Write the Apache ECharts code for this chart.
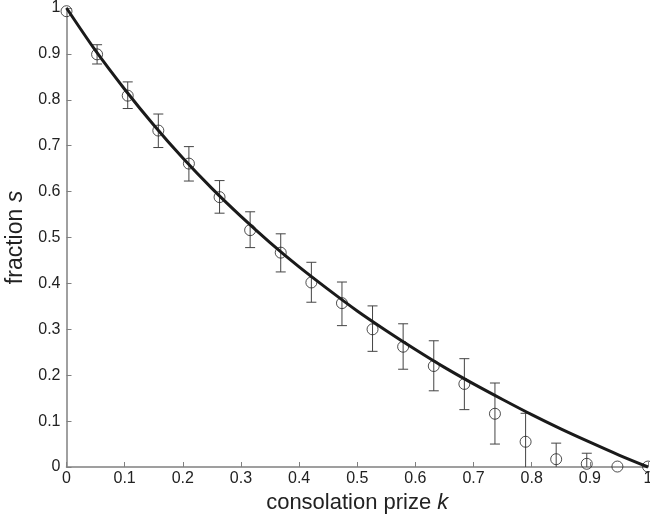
<!DOCTYPE html>
<html>
<head>
<meta charset="utf-8">
<script src="https://cdn.jsdelivr.net/npm/echarts@6/dist/echarts.min.js"></script>
<style>
    html, body { margin: 0; padding: 0; background: #fff; }
    #chart { width: 650px; height: 523px; }
</style>
</head>
<body>
<div id="chart"></div>
<script>
// measured points (k = i/19)
var kValues = [0, 0.0526, 0.1053, 0.1579, 0.2105, 0.2632, 0.3158, 0.3684, 0.4211, 0.4737,
    0.5263, 0.5789, 0.6316, 0.6842, 0.7368, 0.7895, 0.8421, 0.8947, 0.9474, 1];
var sValues = [0.993, 0.899, 0.809, 0.733, 0.661, 0.588, 0.516, 0.467, 0.402, 0.357,
    0.300, 0.262, 0.220, 0.181, 0.116, 0.055, 0.017, 0.007, 0.001, 0.001];
var sUpper = [0.993, 0.920, 0.839, 0.769, 0.698, 0.624, 0.556, 0.508, 0.446, 0.403,
    0.351, 0.312, 0.275, 0.236, 0.183, 0.117, 0.052, 0.030, 0.001, 0.001];
var sLower = [0.993, 0.878, 0.781, 0.696, 0.623, 0.553, 0.478, 0.425, 0.359, 0.308,
    0.252, 0.213, 0.166, 0.125, 0.050, 0, 0, 0, 0.001, 0.001];

// theory curve
var curveK = [0, 0.05, 0.1, 0.15, 0.2, 0.25, 0.3, 0.35, 0.4, 0.45, 0.5,
    0.55, 0.6, 0.65, 0.7, 0.75, 0.8, 0.85, 0.9, 0.95, 1];
var curveS = [1, 0.907, 0.823, 0.745, 0.673, 0.607, 0.546, 0.489, 0.436, 0.387, 0.340,
    0.297, 0.256, 0.217, 0.181, 0.147, 0.114, 0.083, 0.054, 0.026, 0];

var tickFont = 'Liberation Sans, Arial, sans-serif';

var myChart = echarts.init(document.getElementById('chart'), null, {renderer: 'canvas'});

var errData = kValues.map(function (k, i) {
    return [k, sLower[i], sUpper[i]];
});

var option = {
    animation: false,
    grid: {
        left: 66.5,
        right: 2,
        top: 8,
        bottom: 56,
        outerBoundsMode: 'none'
    },
    xAxis: {
        type: 'value',
        min: 0,
        max: 1,
        interval: 0.1,
        name: '{n|consolation prize }{i|k}',
        nameLocation: 'middle',
        nameGap: 25,
        nameTextStyle: {
            rich: {
                n: {fontSize: 22, fontFamily: tickFont, color: '#222'},
                i: {fontSize: 22, fontFamily: tickFont, fontStyle: 'italic', color: '#222'}
            }
        },
        axisLine: {onZero: false, lineStyle: {color: '#808080', width: 1.5}},
        axisTick: {inside: true, length: 5, lineStyle: {color: '#808080'}},
        axisLabel: {
            margin: 4,
            fontSize: 16,
            fontFamily: tickFont,
            color: '#222',
            formatter: function (v) { return Math.round(v * 10) / 10 + ''; }
        },
        splitLine: {show: false}
    },
    yAxis: {
        type: 'value',
        min: 0,
        max: 1,
        interval: 0.1,
        name: '{n|fraction }{i|s}',
        nameLocation: 'middle',
        nameGap: 36,
        nameTextStyle: {
            rich: {
                n: {fontSize: 23, fontFamily: tickFont, color: '#222'},
                i: {fontSize: 23, fontFamily: tickFont, fontStyle: 'italic', color: '#222'}
            }
        },
        axisLine: {onZero: false, lineStyle: {color: '#808080', width: 1.5}},
        axisTick: {inside: true, length: 5, lineStyle: {color: '#808080'}},
        axisLabel: {
            margin: 6,
            fontSize: 16,
            fontFamily: tickFont,
            color: '#222',
            formatter: function (v) { return Math.round(v * 10) / 10 + ''; }
        },
        splitLine: {show: false}
    },
    series: [
        {
            // error bars
            type: 'custom',
            clip: false,
            data: errData,
            renderItem: function (params, api) {
                var x = api.value(0);
                var lo = api.coord([x, api.value(1)]);
                var hi = api.coord([x, api.value(2)]);
                var half = 5;
                var children = [{
                    type: 'line',
                    shape: {x1: hi[0], y1: hi[1], x2: lo[0], y2: lo[1]},
                    style: {stroke: '#444', lineWidth: 1}
                }];
                if (api.value(2) - api.value(1) > 0.005) {
                    children.push({
                        type: 'line',
                        shape: {x1: hi[0] - half, y1: hi[1], x2: hi[0] + half, y2: hi[1]},
                        style: {stroke: '#444', lineWidth: 1}
                    });
                    if (api.value(1) > 0) {
                        children.push({
                            type: 'line',
                            shape: {x1: lo[0] - half, y1: lo[1], x2: lo[0] + half, y2: lo[1]},
                            style: {stroke: '#444', lineWidth: 1}
                        });
                    }
                }
                return {type: 'group', children: children};
            },
            z: 2
        },
        {
            type: 'scatter',
            clip: false,
            data: kValues.map(function (k, i) { return [k, sValues[i]]; }),
            symbol: 'circle',
            symbolSize: 11,
            itemStyle: {color: 'rgba(0,0,0,0)', borderColor: '#222', borderWidth: 1},
            z: 3
        },
        {
            type: 'line',
            clip: false,
            data: curveK.map(function (k, i) { return [k, curveS[i]]; }),
            smooth: 0.3,
            showSymbol: false,
            lineStyle: {color: '#1a1a1a', width: 3},
            z: 4
        }
    ]
};

myChart.setOption(option);
</script>
</body>
</html>
